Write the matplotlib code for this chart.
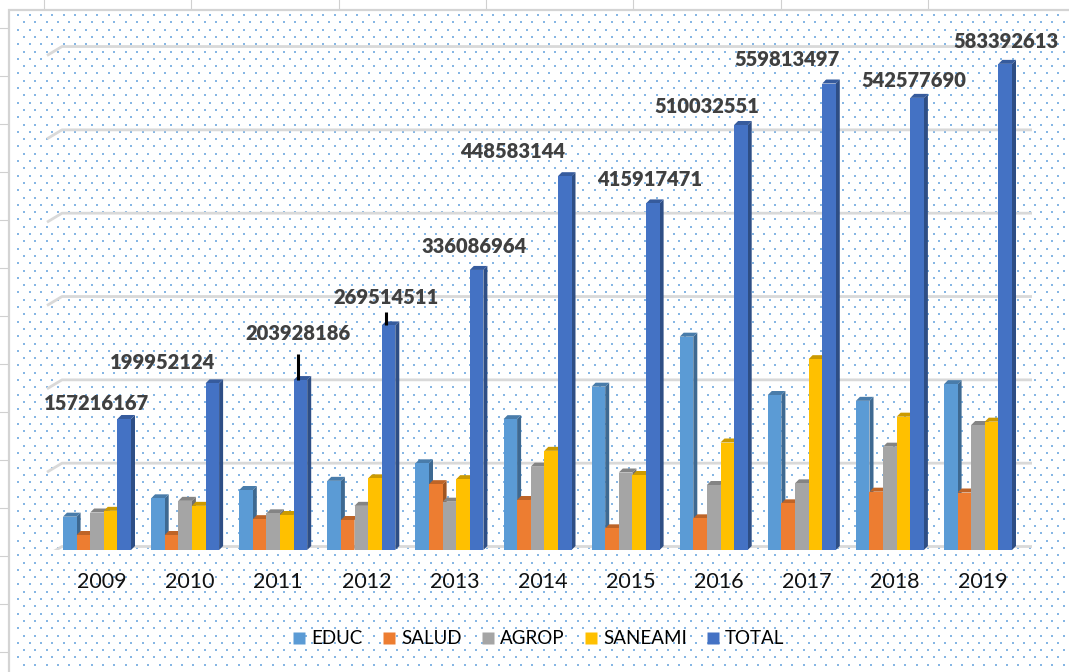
import numpy as np
import matplotlib
matplotlib.use('Agg')
import matplotlib.pyplot as plt
from matplotlib.patches import Polygon, Rectangle
from matplotlib.colors import to_rgb
from matplotlib.lines import Line2D

# data (soles)
years = ['2009', '2010', '2011', '2012', '2013', '2014', '2015', '2016', '2017', '2018', '2019']
educ = [40e6, 62e6, 72e6, 83e6, 104e6, 157e6, 196e6, 256e6, 186e6, 179e6, 199e6]
salud = [18e6, 18e6, 37e6, 36e6, 79e6, 60e6, 26e6, 38e6, 56e6, 70e6, 69e6]
agrop = [45e6, 59e6, 44e6, 53e6, 58e6, 100e6, 93e6, 78e6, 80e6, 124e6, 150e6]
saneami = [47e6, 53e6, 42e6, 86e6, 85e6, 119e6, 90e6, 129e6, 229e6, 160e6, 154e6]
total = [157216167, 199952124, 203928186, 269514511, 336086964, 448583144,
         415917471, 510032551, 559813497, 542577690, 583392613]

series = [('EDUC', educ), ('SALUD', salud), ('AGROP', agrop),
          ('SANEAMI', saneami), ('TOTAL', total)]
colors = ['#5B9BD5', '#ED7D31', '#A5A5A5', '#FFC000', '#4472C4']

# label placement (pixels, relative to the TOTAL bar top)
label_dx = [-28, -50, -2, -2, -2, -52, -3, -34, -42, -3, 1]
label_dy = [15, 21, 47, 28, 23, 25, 24, 18, 24, 17, 22]
leader_len = {2: 26, 3: 13}

W, H = 1069, 672
PX_PER_UNIT = 88.1          # pixels per year group
PX_PER_VAL = 0.8333e-6      # pixels per sol
X0 = 97                     # pixel centre of first group
FLOOR = 550                 # pixel row of the floor

fig = plt.figure(figsize=(W / 100, H / 100), dpi=100)

# background: excel sheet + dotted chart area
bg = fig.add_axes([0, 0, 1, 1], zorder=-2)
bg.set_xlim(0, W)
bg.set_ylim(H, 0)
bg.axis('off')
for cx in np.arange(44, W, 147.3):
    bg.plot([cx, cx], [0, 8], color='#d0d0d0', lw=0.8)
for ry in np.arange(28, H, 48):
    bg.plot([0, 7], [ry, ry], color='#d0d0d0', lw=0.8)
bg.add_patch(Rectangle((9, 10), W, H, facecolor='white', edgecolor='#d4d4d4', lw=1.6))
dx_list, dy_list = [], []
for k, ry in enumerate(np.arange(15, H, 7.3)):
    start = 18.3 if k % 2 == 0 else 24.0
    xs = np.arange(start, W, 11.3)
    dx_list.extend(xs)
    dy_list.extend([ry] * len(xs))
bg.scatter(dx_list, dy_list, s=2.2, marker='s', color='#86b6e4', linewidths=0)

ax = fig.add_axes([9 / W, (H - FLOOR) / H, 1 - 9 / W, (FLOOR - 9) / H])
ax.set_facecolor('none')
ax.set_xlim((9 - X0) / PX_PER_UNIT, (W - X0) / PX_PER_UNIT)
ax.set_ylim(0, (FLOOR - 9) / PX_PER_VAL)
ax.axis('off')

# back wall gridlines with small perspective stub on the left
g_off = 3.5 / PX_PER_VAL
gx0 = (62 - X0) / PX_PER_UNIT
gx1 = (1032 - X0) / PX_PER_UNIT
for v in np.arange(0, 700e6, 100e6):
    ax.plot([gx0 - 15 / PX_PER_UNIT, gx0, gx1],
            [v + g_off - 9 / PX_PER_VAL, v + g_off, v + g_off],
            color='#d9d9d9', lw=2.0, zorder=1, solid_capstyle='butt')

def shade(c, f):
    r, g, b = to_rgb(c)
    return (r * f, g * f, b * f)

bw = 13.6 / PX_PER_UNIT
depx = 4 / PX_PER_UNIT
depy = 4 / PX_PER_VAL
z = 2
for i in range(len(years)):
    for j, (name, vals) in enumerate(series):
        x0 = i + (j - 2.5) * bw
        x1 = x0 + bw
        h = vals[i]
        c = colors[j]
        ax.add_patch(Polygon([(x1, 0), (x1 + depx, depy), (x1 + depx, h + depy), (x1, h)],
                             closed=True, facecolor=shade(c, 0.68), edgecolor='none', zorder=z))
        ax.add_patch(Polygon([(x0, h), (x0 + depx, h + depy), (x1 + depx, h + depy), (x1, h)],
                             closed=True, facecolor=shade(c, 0.8), edgecolor='none', zorder=z))
        ax.bar(x0, h, width=bw, align='edge', color=c, edgecolor='none', zorder=z + 0.5)
        z += 1

    xt = i + 1.5 * bw + bw / 2
    ax.annotate(str(total[i]), xy=(xt, total[i]), xytext=(label_dx[i], label_dy[i]),
                textcoords='offset pixels', ha='center', va='center',
                fontsize=14.5, fontweight='heavy', color='#404040', family='Lato', zorder=200)
    if i in leader_len:
        ax.plot([xt - 2 / PX_PER_UNIT] * 2, [total[i], total[i] + leader_len[i] / PX_PER_VAL],
                color='black', lw=2.2, zorder=199, solid_capstyle='butt')
    ax.text(i + 5 / PX_PER_UNIT, -32 / PX_PER_VAL, years[i], ha='center', va='center',
            fontsize=15.5, color='#111111', family='Lato', clip_on=False)

handles = [Line2D([], [], marker='s', linestyle='none', markersize=8,
                  markerfacecolor=c, markeredgecolor='none') for c in colors]
fig.legend(handles, [s[0] for s in series], loc='center', bbox_to_anchor=(538 / W, 1 - 639 / H),
           ncol=5, frameon=False, handletextpad=0.25, columnspacing=1.0, handlelength=0.8,
           prop={'family': 'Lato', 'size': 13.5})

fig.savefig('out.png', dpi=100)
